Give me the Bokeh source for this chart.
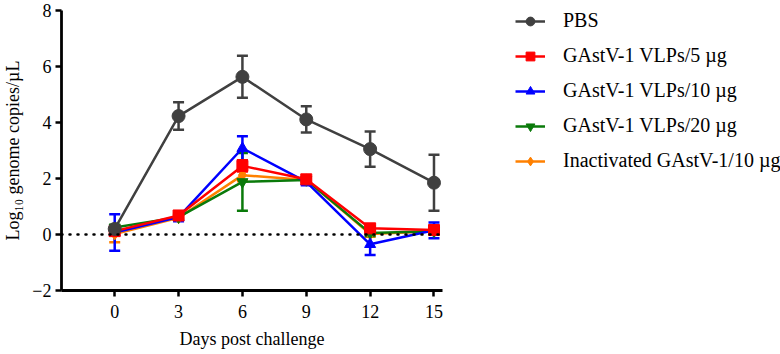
from bokeh.plotting import figure
from bokeh.models import ColumnDataSource, Whisker, TeeHead, Span, Legend, LegendItem, Range1d, FixedTicker
from bokeh.embed import file_html
from bokeh.resources import INLINE

days = [0, 3, 6, 9, 12, 15]
series_names = ["PBS", "GAstV-1 VLPs/5 µg", "GAstV-1 VLPs/10 µg", "GAstV-1 VLPs/20 µg", "Inactivated GAstV-1/10 µg"]
pbs_mean = [0.20, 4.23, 5.63, 4.11, 3.05, 1.85]
pbs_err = [0.08, 0.49, 0.75, 0.47, 0.63, 1.00]
vlp5_mean = [0.12, 0.68, 2.45, 1.97, 0.22, 0.16]
vlp5_err = [0.10, 0.08, 0.20, 0.08, 0.08, 0.10]
vlp10_mean = [0.07, 0.62, 3.08, 1.88, -0.35, 0.15]
vlp10_err = [0.65, 0.15, 0.43, 0.12, 0.38, 0.28]
vlp20_mean = [0.25, 0.62, 1.88, 1.95, 0.05, 0.12]
vlp20_err = [0.10, 0.08, 1.03, 0.08, 0.10, 0.08]
inact_mean = [0.02, 0.60, 2.12, 1.95, 0.02, 0.12]
inact_err = [0.30, 0.10, 0.22, 0.08, 0.10, 0.08]
x_ticks = [0, 3, 6, 9, 12, 15]
y_ticks = [-2, 0, 2, 4, 6, 8]

FONT = "Liberation Serif"

p = figure(width=780, height=354, output_backend="svg", toolbar_location=None,
           x_range=Range1d(-2.5, 15.4), y_range=Range1d(-2, 8),
           min_border_left=61, min_border_right=338, min_border_top=10, min_border_bottom=64)
p.frame_width = 381
p.frame_height = 280
p.outline_line_color = None
p.grid.visible = False
p.background_fill_color = "white"

for ax in (p.xaxis[0], p.yaxis[0]):
    ax.axis_line_width = 2.8
    ax.axis_line_color = "black"
    ax.major_tick_line_width = 2.5
    ax.major_tick_line_color = "black"
    ax.major_tick_out = 6
    ax.major_tick_in = 0
    ax.minor_tick_line_color = None
    ax.major_label_text_font = FONT
    ax.major_label_text_font_size = "18px"
    ax.major_label_text_color = "black"
    ax.axis_label_text_font = FONT
    ax.axis_label_text_font_size = "18px"
    ax.axis_label_text_font_style = "normal"
    ax.axis_label_text_color = "black"

p.xaxis.ticker = FixedTicker(ticks=x_ticks)
p.yaxis.ticker = FixedTicker(ticks=y_ticks)
p.xaxis.axis_label = "Days post challenge"
p.yaxis.axis_label = "Log₁₀ genome copies/µL"
p.xaxis.major_label_standoff = 8
p.xaxis.axis_label_standoff = 8
p.yaxis.major_label_standoff = 4
p.yaxis.axis_label_standoff = 6

p.add_layout(Span(location=0, dimension="width", line_color="black", line_width=2.5,
                  line_dash="1 7", line_cap="round"))

specs = [
    ("inact", inact_mean, inact_err, "#ff8000", "diamond", 12, 4),
    ("vlp20", vlp20_mean, vlp20_err, "#0a7a0a", "inverted_triangle", 11, 3),
    ("vlp10", vlp10_mean, vlp10_err, "#0000ff", "triangle", 11, 2),
    ("vlp5", vlp5_mean, vlp5_err, "#ff0000", "square", 11, 1),
    ("pbs", pbs_mean, pbs_err, "#404040", "circle", 13, 0),
]

renderers = {}
for key, mean, err, color, marker, size, idx in specs:
    src = ColumnDataSource(dict(x=days, y=mean,
                                upper=[m + e for m, e in zip(mean, err)],
                                lower=[m - e for m, e in zip(mean, err)]))
    w = Whisker(source=src, base="x", upper="upper", lower="lower",
                line_color=color, line_width=2.5,
                upper_head=TeeHead(size=11, line_color=color, line_width=2.5),
                lower_head=TeeHead(size=11, line_color=color, line_width=2.5))
    p.add_layout(w)
    l = p.line("x", "y", source=src, line_color=color, line_width=2.5)
    s = p.scatter("x", "y", source=src, marker=marker, size=size, fill_color=color,
                  line_color=color)
    renderers[idx] = (l, s)

items = [LegendItem(label=series_names[i], renderers=list(renderers[i])) for i in range(5)]
legend = Legend(items=items, location=(73, 118), orientation="vertical")
legend.border_line_color = None
legend.background_fill_alpha = 0
legend.padding = 0
legend.margin = 0
legend.glyph_width = 30
legend.glyph_height = 22
legend.spacing = 12
legend.label_standoff = 18
legend.label_text_font = FONT
legend.label_text_font_size = "20px"
legend.label_text_color = "black"
p.add_layout(legend, "right")

open("out.html", "w").write(file_html(p, INLINE))
